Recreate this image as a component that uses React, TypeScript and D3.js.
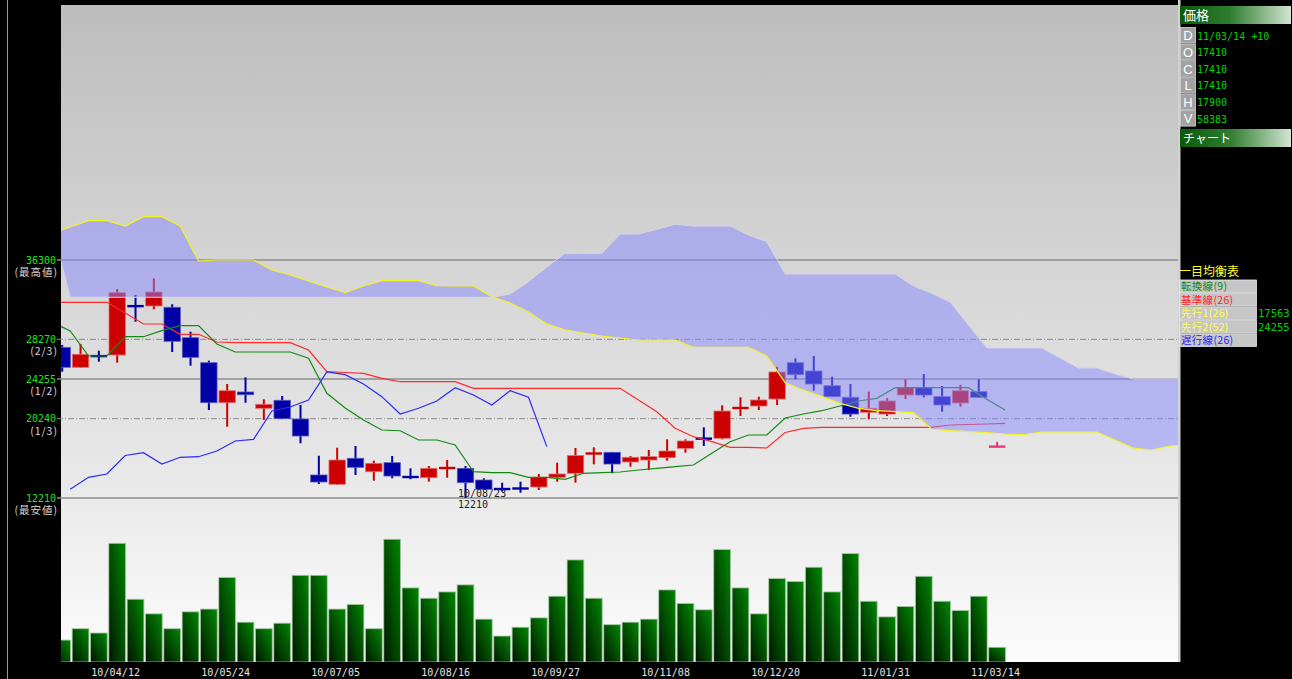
import * as d3 from "d3";

const WIDTH = 1292;
const HEIGHT = 679;
const PLOT = { left: 61, right: 1178, top: 5, bottom: 662 };

// weekly candles, first week 10/03/22
const TICK_INDEX = [3, 9, 15, 21, 27, 33, 39, 45, 51];
const TICK_LABELS = [
  "10/04/12",
  "10/05/24",
  "10/07/05",
  "10/08/16",
  "10/09/27",
  "10/11/08",
  "10/12/20",
  "11/01/31",
  "11/03/14",
];

const OPEN = [
  27460, 25440, 26600, 26685, 31715, 31645, 31515, 28435, 25905, 21855, 22940, 21290, 22100,
  20205, 14540, 13600, 16230, 14870, 15785, 14435, 14265, 15175, 15215, 14030, 13220, 13255,
  13325, 14305, 14710, 16635, 16835, 15855, 16055, 16290, 17240, 18285, 18255, 21220, 21520,
  22230, 25905, 25065, 23575, 22405, 20885, 20710, 22635, 23375, 22465, 21825, 22970, 17410,
];
const HIGH = [
  27700, 27800, 27120, 33365, 32760, 34450, 31815, 29045, 26110, 23750, 24425, 22200, 22535,
  21625, 16490, 17300, 17475, 15985, 16460, 15215, 15450, 16055, 15450, 14205, 13760, 13860,
  14640, 15785, 17270, 17340, 16870, 16460, 17070, 18150, 18150, 19365, 21595, 22405, 22465,
  25500, 26350, 26585, 24490, 23750, 22970, 22300, 24225, 24760, 23545, 23650, 24225, 17900,
];
const LOW = [
  25000, 25400, 26005, 25905, 30055, 31310, 26990, 25600, 21115, 19425, 21855, 20105, 20200,
  17745, 13625, 13550, 14540, 13960, 14205, 14105, 13860, 14265, 12210, 13050, 12850, 12745,
  13020, 13860, 13760, 15620, 14710, 15380, 15045, 15985, 16795, 17475, 18150, 20510, 21115,
  21625, 24225, 23070, 22430, 20440, 20175, 20510, 22230, 22405, 20945, 21450, 22350, 17410,
];
const CLOSE = [
  25440, 26755, 26550, 32990, 31545, 33060, 28070, 26450, 21855, 23070, 22665, 21695, 20235,
  18485, 13830, 16055, 15315, 15720, 14435, 14235, 15215, 15315, 13760, 13090, 13020, 13090,
  14305, 14640, 16510, 16795, 15650, 16330, 16390, 16965, 17980, 18150, 21015, 21420, 22130,
  24965, 24690, 23750, 22465, 20710, 21290, 22030, 23375, 22635, 21625, 23070, 22405, 17410,
];
const VOLUME = [
  87000, 132000, 115000, 471000, 249000, 191000, 132000, 199000, 210000, 335000, 158000,
  132000, 154000, 344000, 344000, 210000, 228000, 132000, 487000, 294000, 253000, 278000,
  306000, 170000, 103000, 138000, 175000, 261000, 405000, 253000, 148000, 158000, 170000,
  286000, 232000, 207000, 446000, 294000, 191000, 331000, 319000, 376000, 278000, 430000,
  241000, 179000, 220000, 340000, 241000, 204000, 261000, 58383,
];

// 転換線 / 基準線, first value is the week before the first candle
const TENKAN = [
  30025, 29115, 26585, 26585, 28535, 28535, 29145, 29650, 29650, 27800, 26990, 26990, 26990,
  26990, 26350, 22810, 21320, 20105, 19095, 19020, 18080, 18080, 17575, 14870, 14770, 14770,
  14305, 14305, 14105, 14710, 14770, 14840, 15045, 15215, 15380, 15550, 16735, 17910, 18585,
  18585, 20310, 20710, 21045, 21520, 22030, 22300, 23375, 23375, 23375, 23375, 23375, 22200,
  21115,
];
const KIJUN = [
  32020, 32020, 32020, 32020, 30935, 29820, 29820, 28780, 28780, 28000, 27930, 27930, 27930,
  27930, 27190, 24995, 24915, 24830, 24325, 23980, 23980, 23980, 23980, 23315, 23315, 23315,
  23315, 23315, 23315, 23315, 23315, 23315, 22130, 20945, 19265, 18415, 17910, 17340, 17340,
  17270, 18840, 19265, 19365, 19365, 19365, 19365, 19365, 19365, 19365, 19600, 19650, 19700,
  19770,
];
// 先行スパン1 / 2, from the week before the first candle to the right edge
const SPAN_A = [
  39035, 39640, 40280, 40280, 39740, 40685, 40685, 39740, 36200, 36300, 36300, 36300, 35290,
  34780, 34175, 33565, 32990, 33670, 34205, 34205, 34205, 33700, 33670, 33670, 32585, 31950,
  31035, 29820, 29215, 28910, 28610, 28405, 28205, 28205, 28205, 27465, 27465, 27465, 27465,
  26585, 23880, 23140, 22465, 21795, 21290, 21045, 20945, 20845, 19165, 19020, 18940, 18820,
  18690, 18615, 18890, 18890, 18890, 18890, 18080, 17270, 17070, 17475, 17575,
];
const SPAN_B = [
  39740, 32525, 32525, 32525, 32525, 32525, 32525, 32525, 32525, 32525, 32525, 32525, 32525,
  32525, 32525, 32525, 32525, 32525, 32525, 32525, 32525, 32525, 32525, 32525, 32525, 32860,
  34105, 35595, 36980, 36980, 36980, 38930, 38930, 39410, 39915, 39740, 39740, 39740, 38830,
  38155, 34885, 34885, 34885, 34885, 34885, 34885, 34885, 33670, 32930, 32050, 29720, 27395,
  27395, 27395, 27395, 26380, 25370, 25370, 24760, 24255, 24255, 24255, 24255,
];
const CHIKOU_SHIFT = 25;

const PRICE_LEVELS = [36300, 28270, 24255, 20240, 12210];
const PRICE_NOTES = ["(最高値)", "(2/3)", "(1/2)", "(1/3)", "(最安値)"];
const PRICE_DASHED = [false, true, false, true, false];

const LOW_LABEL = { index: 22, date: "10/08/23", price: "12210" };

const INFO_KEYS = ["D", "O", "C", "L", "H", "V"];
const INFO_VALUES = ["11/03/14 +10", "17410", "17410", "17410", "17900", "58383"];

const LEGEND_LABELS = ["転換線(9)", "基準線(26)", "先行1(26)", "先行2(52)", "遅行線(26)"];
const LEGEND_COLORS = ["#138a13", "#ff2626", "#ffff4a", "#ffff4a", "#2626ff"];
const LEGEND_VALUES = ["", "", "17563", "24255", ""];

const MONO = "'DejaVu Sans Mono', monospace";
const CJK = "'Noto Sans CJK JP', 'Noto Sans', sans-serif";

export default function App() {
  const x = d3.scaleLinear().domain([0, 51]).range([62.2, 997.1]);
  const y = d3.scaleLinear().domain([12210, 36300]).range([498, 260]);
  const yVol = d3.scaleLinear().domain([0, 500000]).range([PLOT.bottom, 536]);
  const lineX = (k: number) => x(k) + 8;
  const step = x(1) - x(0);

  const fromPrev = d3
    .line<number>()
    .x((_, i) => lineX(i - 1))
    .y((d) => y(d));
  const chikouLine = d3
    .line<number>()
    .x((_, i) => lineX(i))
    .y((d) => y(d));
  const cloud = d3
    .area<number>()
    .x((_, i) => lineX(i - 1))
    .y0((d) => y(d))
    .y1((_, i) => y(SPAN_B[i]));

  const candleColor = (i: number) =>
    CLOSE[i] > OPEN[i] ? "#cc0000" : CLOSE[i] < OPEN[i] ? "#0000a4" : "#e8387a";
  const candleEdge = (i: number) =>
    CLOSE[i] > OPEN[i] ? "#e07070" : CLOSE[i] < OPEN[i] ? "#5a5ac8" : "#f07aa0";

  return (
    <svg
      width={WIDTH}
      height={HEIGHT}
      style={{ position: "absolute", left: 0, top: 0, display: "block" }}
    >
      <defs>
        <linearGradient id="bg" x1="0" x2="0" y1="0" y2="1">
          <stop offset="0" stopColor="#bdbdbd" />
          <stop offset="0.4" stopColor="#d5d5d5" />
          <stop offset="0.76" stopColor="#ebebeb" />
          <stop offset="1" stopColor="#fcfcfc" />
        </linearGradient>
        <linearGradient id="vol" x1="0" x2="1" y1="1" y2="0">
          <stop offset="0" stopColor="#001500" />
          <stop offset="1" stopColor="#008800" />
        </linearGradient>
        <linearGradient id="hdr" x1="0" x2="1" y1="0" y2="0">
          <stop offset="0" stopColor="#0a5a0a" />
          <stop offset="0.45" stopColor="#2f7d2f" />
          <stop offset="1" stopColor="#d2e6d2" />
        </linearGradient>
        <clipPath id="plot">
          <rect
            x={PLOT.left}
            y={PLOT.top}
            width={PLOT.right - PLOT.left}
            height={PLOT.bottom - PLOT.top}
          />
        </clipPath>
      </defs>

      <rect width={WIDTH} height={HEIGHT} fill="#000" />
      <line x1={7.5} x2={7.5} y1={0} y2={HEIGHT} stroke="#9a9a9a" strokeWidth={1} />
      <rect
        x={PLOT.left}
        y={PLOT.top}
        width={PLOT.right - PLOT.left}
        height={PLOT.bottom - PLOT.top}
        fill="url(#bg)"
      />

      {/* price levels */}
      {PRICE_LEVELS.map((p, i) => (
        <g key={p}>
          <line
            x1={57}
            x2={PLOT.right}
            y1={y(p)}
            y2={y(p)}
            stroke={PRICE_DASHED[i] ? "#8a8a8a" : "#8c8c8c"}
            strokeWidth={PRICE_DASHED[i] ? 1 : 1.3}
            strokeDasharray={PRICE_DASHED[i] ? "6,2,1,2" : undefined}
          />
          <text
            x={56}
            y={y(p) + 3.5}
            textAnchor="end"
            fill="#1ee61e"
            fontFamily={MONO}
            fontSize={10}
          >
            {p}
          </text>
          <text
            x={58}
            y={y(p) + 16}
            textAnchor="end"
            fill="#d8d8d8"
            fontFamily={CJK}
            fontSize={10.5}
            letterSpacing={1}
          >
            {PRICE_NOTES[i]}
          </text>
        </g>
      ))}

      <g clipPath="url(#plot)">
        {/* volume */}
        {VOLUME.map((v, i) => (
          <rect
            key={i}
            x={x(i) - step / 2 + 0.8}
            y={yVol(v)}
            width={step - 1.6}
            height={PLOT.bottom - yVol(v)}
            fill="url(#vol)"
            stroke="#a6c4a6"
            strokeWidth={0.8}
          />
        ))}

        {/* candles */}
        {OPEN.map((o, i) => {
          const c = CLOSE[i];
          const top = y(Math.max(o, c));
          const h = Math.abs(y(o) - y(c));
          const bh = Math.max(h, 2.4);
          const by = h < 2.4 ? (y(o) + y(c)) / 2 - 1.2 : top;
          return (
            <g key={i}>
              <rect
                x={x(i) - 1}
                y={y(HIGH[i])}
                width={2}
                height={y(LOW[i]) - y(HIGH[i])}
                fill={candleColor(i)}
              />
              <rect
                x={x(i) - 8.2}
                y={by}
                width={16.4}
                height={bh}
                fill={candleColor(i)}
                stroke={h < 2.4 ? "none" : candleEdge(i)}
                strokeWidth={0.8}
              />
            </g>
          );
        })}

        <text
          x={x(LOW_LABEL.index) - 7.5}
          y={497}
          fill="#222"
          fontFamily={MONO}
          fontSize={10}
        >
          {LOW_LABEL.date}
        </text>
        <text
          x={x(LOW_LABEL.index) - 7.5}
          y={507.5}
          fill="#222"
          fontFamily={MONO}
          fontSize={10}
        >
          {LOW_LABEL.price}
        </text>

        {/* ichimoku lines */}
        <path d={fromPrev(KIJUN) ?? ""} fill="none" stroke="#ff2a2a" strokeWidth={1.2} />
        <path d={fromPrev(TENKAN) ?? ""} fill="none" stroke="#138a13" strokeWidth={1.2} />
        <path
          d={chikouLine(CLOSE.slice(CHIKOU_SHIFT)) ?? ""}
          fill="none"
          stroke="#2a2aff"
          strokeWidth={1.2}
        />

        {/* cloud */}
        <path d={cloud(SPAN_A) ?? ""} fill="rgb(135,135,255)" fillOpacity={0.5} />
        <path d={fromPrev(SPAN_B) ?? ""} fill="none" stroke="#d6d6e2" strokeWidth={1} />
        <path d={fromPrev(SPAN_A) ?? ""} fill="none" stroke="#f4f41e" strokeWidth={1.2} />
      </g>

      {/* x axis labels */}
      {TICK_INDEX.map((k, i) => (
        <text
          key={k}
          x={x(k) - 1.5}
          y={676}
          textAnchor="middle"
          fill="#e6e6e6"
          fontFamily={MONO}
          fontSize={10}
          letterSpacing={0.1}
        >
          {TICK_LABELS[i]}
        </text>
      ))}

      {/* right panel */}
      <rect x={PLOT.right} y={0} width={2.5} height={PLOT.bottom} fill="#d2d2d2" />
      <rect x={1180} y={6} width={111} height={18} fill="url(#hdr)" />
      <text x={1183} y={20} fill="#fff" fontFamily={CJK} fontSize={13}>
        価格
      </text>
      {INFO_KEYS.map((key, i) => {
        const ry = 27.5 + i * 16.6;
        return (
          <g key={key}>
            <rect
              x={1180.5}
              y={ry}
              width={15}
              height={15.6}
              fill="#a2a2a2"
              stroke="#d6d6d6"
              strokeWidth={0.8}
            />
            <text
              x={1188}
              y={ry + 12.8}
              textAnchor="middle"
              fill="#fff"
              fontFamily="'Liberation Sans', sans-serif"
              fontSize={13}
            >
              {key}
            </text>
            <text x={1197} y={ry + 12} fill="#00d400" fontFamily={MONO} fontSize={10}>
              {INFO_VALUES[i]}
            </text>
          </g>
        );
      })}
      <rect x={1180} y={129} width={111} height={18} fill="url(#hdr)" />
      <text x={1183} y={143} fill="#fff" fontFamily={CJK} fontSize={12}>
        チャート
      </text>

      <text x={1179} y={276} fill="#ffff2a" fontFamily={CJK} fontSize={12}>
        一目均衡表
      </text>
      {LEGEND_LABELS.map((label, i) => {
        const ry = 280 + i * 13.45;
        return (
          <g key={label}>
            <rect
              x={1179.5}
              y={ry}
              width={77}
              height={12.6}
              fill="#c6c6c6"
              stroke="#e8e8e8"
              strokeWidth={0.8}
            />
            <text
              x={1181}
              y={ry + 10.3}
              fill={LEGEND_COLORS[i]}
              fontFamily={CJK}
              fontSize={10.5}
              letterSpacing={0.3}
            >
              {label}
            </text>
            {LEGEND_VALUES[i] && (
              <text x={1258} y={ry + 10.3} fill="#00d400" fontFamily={MONO} fontSize={10.5}>
                {LEGEND_VALUES[i]}
              </text>
            )}
          </g>
        );
      })}
    </svg>
  );
}
